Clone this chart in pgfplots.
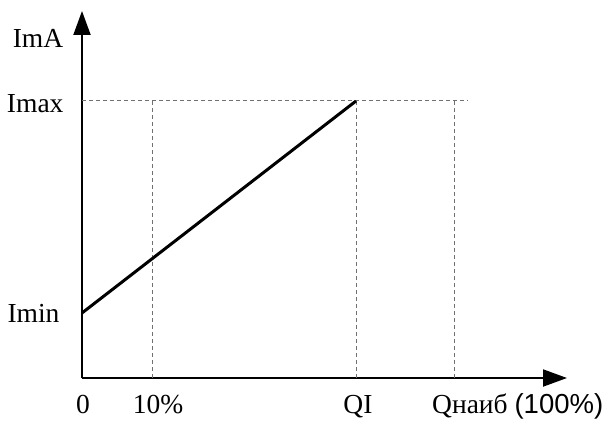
\documentclass[border=0pt]{standalone}
\usepackage{fontspec}
\setmainfont{Liberation Serif}
\newfontfamily\arial{Liberation Sans}
\usepackage{pgfplots}
\pgfplotsset{compat=1.18}
\usetikzlibrary{arrows.meta}
\definecolor{guide}{HTML}{707070}
\begin{document}
\begin{tikzpicture}
\begin{axis}[
    x=1pt, y=1pt,
    xmin=0, xmax=485, ymin=0, ymax=367,
    enlargelimits=false,
    axis lines=left,
    axis line style={line width=2pt, -{Triangle[length=24pt,width=17pt]}},
    xtick=\empty, ytick=\empty,
    clip=false,
    font=\fontsize{27.5}{32}\selectfont,
]
    % guides
    \addplot[guide, line width=1pt, dash pattern=on 4pt off 3pt] coordinates {(0,277) (386,277)};
    \addplot[guide, line width=1pt, dash pattern=on 4pt off 3pt] coordinates {(70,0) (70,277)};
    \addplot[guide, line width=1pt, dash pattern=on 4pt off 3pt] coordinates {(274,0) (274,277)};
    \addplot[guide, line width=1pt, dash pattern=on 4pt off 3pt] coordinates {(372,0) (372,277)};
    % current vs flow
    \addplot[black, line width=3pt] coordinates {(0,65) (274,277)};

    \node at (axis cs:-44,340) {ImA};
    \node[anchor=east] at (axis cs:-15,274) {Imax};
    \node[anchor=east] at (axis cs:-19,65) {Imin};
    \node[anchor=base] at (axis cs:1,-35) {0};
    \node[anchor=base] at (axis cs:76,-35) {10\%};
    \node[anchor=base] at (axis cs:276,-35) {QI};
    \node[anchor=base west, inner sep=0pt] at (axis cs:350,-35) {Qнаиб {\arial(100\%)}};

    \path (axis cs:-82,-40) rectangle (axis cs:530,378);
\end{axis}
\end{tikzpicture}
\end{document}
